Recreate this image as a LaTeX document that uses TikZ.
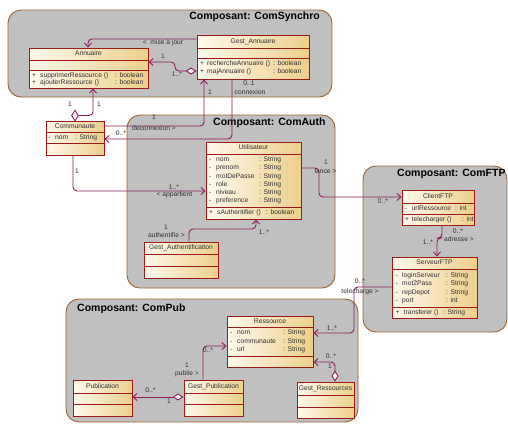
\documentclass[tikz,border=0pt]{standalone}
\usepackage{fontspec}
\setmainfont{Liberation Sans}
\usetikzlibrary{arrows.meta,shapes.geometric,fit}
\definecolor{compfill}{HTML}{C0C0C0}
\definecolor{compline}{HTML}{9C6430}
\definecolor{clsline}{HTML}{9E1A1A}
\definecolor{clsA}{HTML}{FFF9EC}
\definecolor{clsB}{HTML}{EDCF8C}
\definecolor{conn}{HTML}{8E1C5A}
\definecolor{txt}{HTML}{303030}
\tikzset{
  comp/.style={draw=compline, fill=compfill, line width=0.9pt, rounded corners=13pt, inner sep=0},
  comptitle/.style={font=\fontsize{10.5}{12}\selectfont\bfseries, text=black, inner sep=0},
  clsfill/.style={left color=clsA, right color=clsB},
  clsdiv/.style={draw=clsline, line width=0.9pt},
  clsframe/.style={draw=clsline, line width=0.9pt, inner sep=0},
  ctext/.style={font=\fontsize{6.7}{8}\selectfont, text=txt, inner sep=0, text height=4.8pt, text depth=1.3pt},
  row/.style={ctext, anchor=west},
  lbl/.style={ctext},
  assoc/.style={draw=conn, line width=0.9pt, rounded corners=4pt, -{Straight Barb[length=4pt,width=7pt]}},
  aggr/.style={draw=conn, line width=0.9pt, rounded corners=4pt, {Diamond[length=11pt,width=7pt,fill=white]}-{Straight Barb[length=4pt,width=7pt]}},
}
\newcommand\umlcls[7]{%
  \shade[clsfill] (#2,#3) rectangle (#4,#6);
  \shade[clsfill] (#2,#6) rectangle (#4,#7);
  \shade[clsfill] (#2,#7) rectangle (#4,#5);
  \draw[clsdiv] (#2,#6) -- (#4,#6) (#2,#7) -- (#4,#7);
  \node[clsframe, fit={(#2,#3) (#4,#5)}] (#1) {};
}
\newcommand\crow[4]{\node[row] (#1) at (#2,#3) {#4};}
\newcommand\clbl[4]{\node[lbl] (#1) at (#2,#3) {#4};}
\begin{document}
\begin{tikzpicture}[x=1pt, y=-1pt]
\useasboundingbox (0,0) rectangle (508,423);

% components
\node[comp, fit={(8,10) (332,97)}] (csync) {};
\node[comp, fit={(127,115) (335,288)}] (cauth) {};
\node[comp, fit={(363,166) (507,332)}] (cftpc) {};
\node[comp, fit={(66,299) (358,422)}] (cpub) {};
\node[comptitle, anchor=east] (tsync) at (320,17) {Composant: ComSynchro};
\node[comptitle, anchor=west] (tauth) at (213,123) {Composant: ComAuth};
\node[comptitle, anchor=west] (tftp) at (397,173.5) {Composant: ComFTP};
\node[comptitle, anchor=west] (tpub) at (77,309) {Composant: ComPub};

% classes
\umlcls{annu}{29}{48}{148}{88}{60}{70}
\umlcls{gann}{197}{35}{309}{79}{48}{58}
\umlcls{comm}{46}{121}{104}{155}{132}{143}
\umlcls{util}{206}{142}{301}{219}{154}{207}
\umlcls{gauth}{144}{242}{218}{278}{254}{266}
\umlcls{cftp}{402}{190}{474}{225}{203}{214}
\umlcls{srv}{392}{257}{477}{318}{269}{307}
\umlcls{ress}{227}{316}{313}{367}{327}{356}
\umlcls{gpub}{184}{380}{243}{416}{393}{404}
\umlcls{pub}{73}{380}{132}{416}{393}{404}
\umlcls{gres}{297}{382}{354}{418}{395}{407}

% aggregation diamond on Communaute
\node[draw=conn, fill=white, diamond, line width=0.9pt, minimum width=7pt, minimum height=11pt, inner sep=0] (commdia) at (75,115.5) {};

% connectors
\draw[assoc] (gann.west |- 0,39) -| (annu.north -| 88,0);
\draw[aggr] (gann.west |- 0,71) -- (175,71) |- (annu.east |- 0,62);
\draw[assoc] (commdia.east) -| (annu.south -| 93,0);
\draw[assoc] (comm.east |- 0,126) -| (gann.south -| 204,0);
\draw[assoc] (gann.south -| 232,0) |- (comm.east |- 0,139);
\draw[assoc] (comm.south -| 73,0) |- (util.west |- 0,191);
\draw[assoc] (gauth.north -| 189,0) |- (256,229) -- (util.south -| 256,0);
\draw[assoc] (util.east |- 0,168) -| (319,197) -- (cftp.west |- 0,197);
\draw[assoc] (cftp.south -| 442,0) |- (437,238) -- (srv.north -| 437,0);
\draw[assoc] (srv.west |- 0,287) -| (354,333) -- (ress.east |- 0,333);
\draw[aggr] (gres.north -| 335,0) |- (ress.east |- 0,362);
\draw[assoc] (gpub.north -| 203,0) |- (ress.west |- 0,346);
\draw[aggr] (gpub.west |- 0,397) -- (pub.east |- 0,397);

% class texts
\node[ctext] (h1) at (88.5,54) {Annuaire};
\crow{a1}{32}{75.5}{+}\crow{a2}{40}{75.5}{supprimerRessource ()}\crow{a3}{115}{75.5}{: boolean}
\crow{a4}{32}{82.5}{+}\crow{a5}{40}{82.5}{ajouterRessource ()}\crow{a6}{115}{82.5}{: boolean}

\node[ctext] (h2) at (253,41.5) {Gest\_Annuaire};
\crow{b1}{200}{63.5}{+}\crow{b2}{207}{63.5}{rechercheAnnuaire ()}\crow{b3}{273}{63.5}{: boolean}
\crow{b4}{200}{71.5}{+}\crow{b5}{207}{71.5}{majAnnuaire ()}\crow{b6}{273}{71.5}{: boolean}

\node[ctext] (h3) at (75,126.5) {Communaute};
\crow{c1}{48.5}{137.5}{-}\crow{c2}{55}{137.5}{nom}\crow{c3}{75}{137.5}{: String}

\node[ctext] (h4) at (253.5,148) {Utilisateur};
\crow{d1}{209}{160}{-}\crow{d2}{216}{160}{nom}\crow{d3}{259}{160}{: String}
\crow{d4}{209}{168.2}{-}\crow{d5}{216}{168.2}{prenom}\crow{d6}{259}{168.2}{: String}
\crow{d7}{209}{176.4}{-}\crow{d8}{216}{176.4}{motDePasse}\crow{d9}{259}{176.4}{: String}
\crow{d10}{209}{184.6}{-}\crow{d11}{216}{184.6}{role}\crow{d12}{259}{184.6}{: String}
\crow{d13}{209}{192.8}{-}\crow{d14}{216}{192.8}{niveau}\crow{d15}{259}{192.8}{: String}
\crow{d16}{209}{201}{-}\crow{d17}{216}{201}{preference}\crow{d18}{259}{201}{: String}
\crow{d19}{209}{213}{+}\crow{d20}{217}{213}{sAuthentifier ()}\crow{d21}{266}{213}{: boolean}

\node[ctext] (h5) at (181,248) {Gest\_Authentification};

\node[ctext] (h6) at (438,196.5) {ClientFTP};
\crow{e1}{405}{208.5}{-}\crow{e2}{411.5}{208.5}{urlRessource}\crow{e3}{455}{208.5}{: int}
\crow{e4}{405}{219.5}{+}\crow{e5}{411.5}{219.5}{telecharger ()}\crow{e6}{462}{219.5}{: int}

\node[ctext] (h7) at (434.5,263) {ServeurFTP};
\crow{f1}{395.5}{276}{-}\crow{f2}{402}{276}{loginServeur}\crow{f3}{446}{276}{: String}
\crow{f4}{395.5}{284.2}{-}\crow{f5}{402}{284.2}{mot2Pass}\crow{f6}{446}{284.2}{: String}
\crow{f7}{395.5}{292.4}{-}\crow{f8}{402}{292.4}{repDepot}\crow{f9}{446}{292.4}{: String}
\crow{f10}{395.5}{300.6}{-}\crow{f11}{402}{300.6}{port}\crow{f12}{446}{300.6}{: int}
\crow{f13}{395.5}{312.5}{+}\crow{f14}{403.5}{312.5}{transferer ()}\crow{f15}{443}{312.5}{: String}

\node[ctext] (h8) at (270,321.5) {Ressource};
\crow{g1}{230}{333}{-}\crow{g2}{237}{333}{nom}\crow{g3}{283}{333}{: String}
\crow{g4}{230}{341.5}{-}\crow{g5}{237}{341.5}{communaute}\crow{g6}{283}{341.5}{: String}
\crow{g7}{230}{350}{-}\crow{g8}{237}{350}{url}\crow{g9}{283}{350}{: String}

\node[ctext] (h9) at (213.5,386.5) {Gest\_Publication};
\node[ctext] (h10) at (102.5,386.5) {Publication};
\node[ctext] (h11) at (325.5,388.5) {Gest\_Ressources};

% connector labels
\clbl{l1}{163}{43}{<\ \ mise à jour}
\clbl{l2}{163}{57}{1}
\clbl{l3}{177}{75}{1..*}
\clbl{l4}{70}{105}{1}
\clbl{l5}{99}{105}{1}
\clbl{l6}{154}{118}{1}
\clbl{l7}{154}{129}{deconnexion >}
\clbl{l8}{210}{93}{1}
\clbl{l9}{249}{84}{0..1}
\clbl{l10}{250}{93}{connexion}
\clbl{l11}{121}{134}{0..*}
\clbl{l12}{77}{172}{1}
\clbl{l13}{174}{188}{1..*}
\clbl{l14}{174.5}{195}{< appartient}
\clbl{l15}{166}{228}{1}
\clbl{l16}{166.5}{236}{authentifie >}
\clbl{l17}{264}{233}{1..*}
\clbl{l18}{326}{163}{1}
\clbl{l19}{325.5}{172}{lance >}
\clbl{l20}{383}{202}{0..*}
\clbl{l21}{458}{232}{0..*}
\clbl{l22}{459}{239.5}{adresse >}
\clbl{l23}{428}{243}{1..*}
\clbl{l24}{360}{282}{0..*}
\clbl{l25}{360}{292}{telecharge >}
\clbl{l26}{332}{329}{1..*}
\clbl{l27}{331}{357}{0..*}
\clbl{l28}{330}{367}{1}
\clbl{l29}{208}{351}{0..*}
\clbl{l30}{187}{366}{1}
\clbl{l31}{187}{374}{publie >}
\clbl{l32}{150.5}{391}{0..*}
\clbl{l33}{169}{402}{1}
\end{tikzpicture}
\end{document}
